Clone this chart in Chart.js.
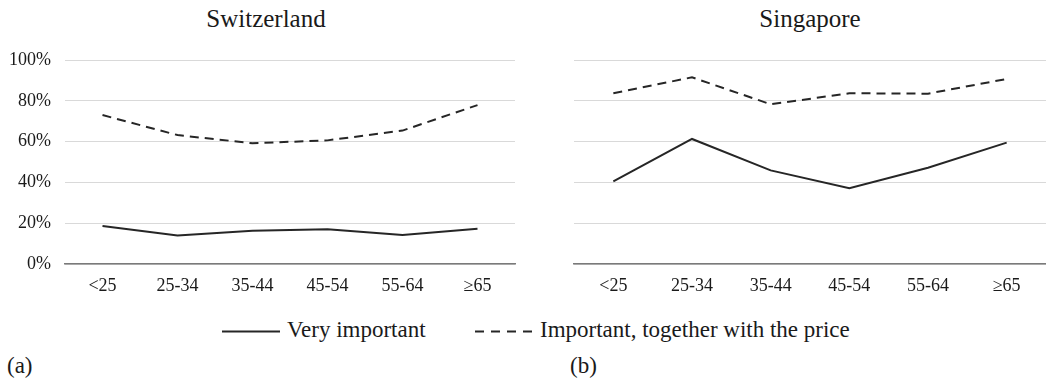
<!DOCTYPE html>
<html>
<head>
<meta charset="utf-8">
<script src="https://cdn.jsdelivr.net/npm/chart.js@4"></script>
<style>
  html, body { margin: 0; padding: 0; background: #fff; }
  body { width: 1046px; height: 379px; position: relative; overflow: hidden;
         font-family: "Liberation Serif", "DejaVu Serif", serif; color: #1a1a1a; }
  .wrap { position: absolute; top: 0; height: 300px; }
  .title { position: absolute; top: 6px; font-size: 25px; line-height: 25px; text-align: center; white-space: nowrap; }
  .txt { position: absolute; font-size: 23px; line-height: 23px; white-space: nowrap; }
  .key { position: absolute; top: 330px; }
</style>
</head>
<body>
<div class="title" style="left:0;width:532px;">Switzerland</div>
<div class="title" style="left:574px;width:472px;">Singapore</div>
<div class="wrap" style="left:0;width:530px;"><canvas id="chA"></canvas></div>
<div class="wrap" style="left:530px;width:516px;"><canvas id="chB"></canvas></div>

<svg class="key" style="left:222px;" width="58" height="3"><line x1="0" y1="1.5" x2="58" y2="1.5" stroke="#262626" stroke-width="2"/></svg>
<div class="txt" style="left:287px;top:318px;">Very important</div>
<svg class="key" style="left:475px;" width="58" height="3"><line x1="0" y1="1.5" x2="58" y2="1.5" stroke="#262626" stroke-width="2" stroke-dasharray="9,7"/></svg>
<div class="txt" style="left:540px;top:318px;">Important, together with the price</div>
<div class="txt" style="left:7px;top:354px;">(a)</div>
<div class="txt" style="left:570px;top:354px;">(b)</div>

<script>
// Age groups and tick labels
const ageGroups = ['<25', '25-34', '35-44', '45-54', '55-64', '\u226565'];
const yTicks = [0, 20, 40, 60, 80, 100];

// Switzerland (%)
const chVeryImportant = [18.6, 14.0, 16.3, 17.0, 14.2, 17.3];
const chWithPrice = [73.0, 63.2, 59.2, 60.6, 65.4, 77.9];

// Singapore (%)
const sgVeryImportant = [40.5, 61.3, 45.9, 37.1, 47.2, 59.5];
const sgWithPrice = [83.7, 91.5, 78.3, 83.7, 83.5, 90.7];

const seriesNames = ['Very important', 'Important, together with the price'];
const lineColor = '#262626';
const serif = '"Liberation Serif", "DejaVu Serif", serif';

function makeChart(id, veryImp, withPrice, showYLabels, leftWidth, rightPad) {
  return new Chart(document.getElementById(id), {
    type: 'line',
    data: {
      labels: ageGroups,
      datasets: [
        { label: seriesNames[0], data: veryImp, borderColor: lineColor, borderWidth: 2,
          pointRadius: 0, tension: 0, fill: false },
        { label: seriesNames[1], data: withPrice, borderColor: lineColor, borderWidth: 2,
          borderDash: [9, 6], pointRadius: 0, tension: 0, fill: false }
      ]
    },
    options: {
      responsive: true,
      maintainAspectRatio: false,
      animation: false,
      layout: { padding: { top: 60, right: rightPad, left: 0, bottom: 0 } },
      plugins: { legend: { display: false }, title: { display: false }, tooltip: { enabled: false } },
      scales: {
        x: {
          offset: true,
          grid: { display: false, drawTicks: false },
          border: { display: true, color: '#7a7a7a', width: 1.5 },
          ticks: { color: '#1a1a1a', font: { family: serif, size: 18 }, padding: 11, maxRotation: 0 },
          afterFit: s => { s.height = 36; }
        },
        y: {
          min: 0, max: 100,
          afterBuildTicks: s => { s.ticks = yTicks.map(v => ({ value: v })); },
          grid: { color: '#d9d9d9', lineWidth: 1, drawTicks: false },
          border: { display: false },
          ticks: { display: showYLabels, color: '#1a1a1a', font: { family: serif, size: 18 },
                   padding: 14, callback: v => v + '%' },
          afterFit: s => { s.width = leftWidth; }
        }
      }
    }
  });
}

makeChart('chA', chVeryImportant, chWithPrice, true, 65, 15);
makeChart('chB', sgVeryImportant, sgWithPrice, false, 44, 0);
</script>
</body>
</html>
